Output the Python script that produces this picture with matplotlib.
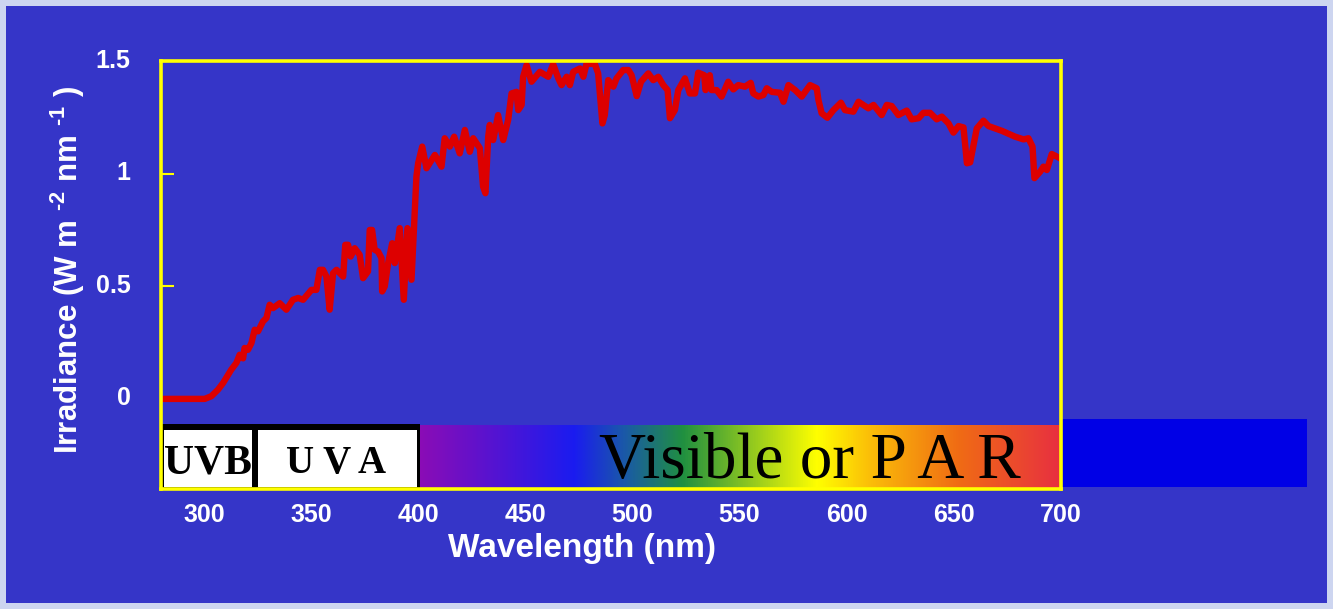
import numpy as np
import matplotlib
matplotlib.use("Agg")
import matplotlib.pyplot as plt
import matplotlib.transforms as mtransforms
from matplotlib.patches import Rectangle
from matplotlib.colors import LinearSegmentedColormap

# ---- data ----
wavelength = [280, 290, 299, 300.4, 303.5, 306.6, 309, 312.8, 315.2, 316.7, 318.3, 319, 320.6, 322.2,
              323.7, 325.3, 327.6, 329.2, 330.7, 332.3, 335.4, 337, 338.5, 341.6, 344, 346.3, 350.2,
              352.5, 354.1, 355.6, 357.2, 358.7, 360.3, 361.9, 365, 366, 367.3, 368.5, 370.4, 372.7,
              374.3, 376.6, 377.4, 378.5, 379.7, 381.3, 382.9, 383.2, 384.4, 386, 387.9, 389.1, 391.4,
              393.3, 395, 396.9, 398.4, 399.2, 400, 401.9, 403.9, 407.8, 410.9, 412.4, 414.8, 416.8,
              419.4, 421.8, 424.1, 425.7, 428.8, 430.3, 431.4, 432.7, 433.4, 435, 437.3, 439.7, 442,
              443.6, 445.9, 446.7, 448.3, 449, 450.6, 452.9, 456.8, 460.7, 463, 465.4, 466.9, 469.3,
              470.8, 472.4, 475.5, 477.1, 478.6, 482.5, 484, 486, 487.1, 488.7, 491.1, 492.6, 495.7,
              498.1, 499.6, 502, 504, 507.4, 509.7, 512.1, 514.4, 516.4, 517.5, 519.8, 521.4, 524.5,
              526.8, 529.2, 530.7, 533.5, 534.1, 536.1, 536.9, 539.3, 541.6, 544.7, 547.1, 549.4,
              552.5, 555.2, 556.4, 558.8, 561.1, 562.7, 565, 568.9, 570.5, 572.8, 575.9, 579, 582.9,
              586, 586.8, 588.3, 591, 593.8, 597.3, 599.2, 603.1, 605.5, 610.1, 612.5, 616.3, 618.7,
              621, 624.1, 628, 630.3, 633.5, 635.8, 638.9, 642, 644.4, 647.5, 649.8, 652.2, 654.5,
              656.1, 657.6, 660.7, 663.8, 666.2, 672.4, 678.6, 682.5, 684.8, 686.7, 687.6, 690.3,
              691.8, 693.4, 695.7, 699.6]
irradiance = [0.0, 0.0, 0.0, 0.0, 0.012, 0.041, 0.071, 0.13, 0.16, 0.196, 0.18, 0.226, 0.218, 0.248,
              0.307, 0.30, 0.344, 0.359, 0.418, 0.403, 0.425, 0.41, 0.396, 0.44, 0.448, 0.44, 0.484,
              0.484, 0.573, 0.573, 0.543, 0.396, 0.558, 0.573, 0.543, 0.684, 0.684, 0.632, 0.669, 0.64,
              0.536, 0.566, 0.75, 0.75, 0.662, 0.654, 0.625, 0.477, 0.499, 0.603, 0.691, 0.603, 0.758,
              0.44, 0.758, 0.529, 0.824, 0.987, 1.046, 1.12, 1.024, 1.083, 1.031, 1.157, 1.12, 1.164,
              1.09, 1.194, 1.097, 1.157, 1.113, 0.942, 0.913, 1.164, 1.216, 1.149, 1.26, 1.149, 1.238,
              1.356, 1.363, 1.282, 1.305, 1.43, 1.482, 1.408, 1.452, 1.43, 1.486, 1.423, 1.393, 1.43,
              1.393, 1.452, 1.467, 1.43, 1.489, 1.486, 1.445, 1.223, 1.26, 1.415, 1.386, 1.423, 1.46,
              1.46, 1.437, 1.344, 1.408, 1.445, 1.415, 1.43, 1.393, 1.371, 1.246, 1.282, 1.371, 1.423,
              1.356, 1.356, 1.448, 1.437, 1.371, 1.437, 1.371, 1.371, 1.342, 1.408, 1.374, 1.393,
              1.386, 1.403, 1.356, 1.342, 1.349, 1.379, 1.363, 1.359, 1.319, 1.393, 1.371, 1.342,
              1.393, 1.379, 1.327, 1.268, 1.248, 1.282, 1.315, 1.282, 1.275, 1.319, 1.29, 1.305,
              1.26, 1.305, 1.30, 1.26, 1.28, 1.241, 1.246, 1.27, 1.27, 1.241, 1.253, 1.223, 1.182,
              1.211, 1.205, 1.046, 1.05, 1.201, 1.235, 1.211, 1.19, 1.164, 1.152, 1.157, 1.12, 0.98,
              1.009, 1.031, 1.016, 1.087, 1.068]

xticks = [300, 350, 400, 450, 500, 550, 600, 650, 700]
xticklabels = ["300", "350", "400", "450", "500", "550", "600", "650", "700"]
yticks = [0, 0.5, 1, 1.5]
yticklabels = ["0", "0.5", "1", "1.5"]

band_names = ["UVB", "UVA"]
band_edges = [(280, 322.6), (325.4, 401)]
visible_range = (401, 700)
spectrum_stops = [(0.0, "#8a0cb6"), (0.24, "#1a1cf0"), (0.32, "#1a5aa6"), (0.41, "#209040"),
                  (0.62, "#ffff00"), (0.70, "#fbc008"), (0.84, "#f06c14"), (1.0, "#e83040")]

BG = "#3535c8"
YEL = "#ffff00"

plt.rcParams['mathtext.fontset'] = 'custom'
plt.rcParams['mathtext.bf'] = 'Liberation Sans:bold'
plt.rcParams['mathtext.rm'] = 'Liberation Sans:bold'
plt.rcParams['mathtext.default'] = 'bf'

fig = plt.figure(figsize=(13.33, 6.09), dpi=100)
fig.patch.set_facecolor("#cdd5f0")
fig.patches.append(Rectangle((6 / 1333, 6 / 609), 1321 / 1333, 597 / 609,
                             transform=fig.transFigure, facecolor=BG, edgecolor="none", zorder=-10))

ax = fig.add_axes([161 / 1333, 1 - 489 / 609, 900 / 1333, 428 / 609])
ax.set_facecolor(BG)

# UV boxes
ax.add_patch(Rectangle((279.5, -0.4), 401 - 279.5, 0.288, facecolor="black", edgecolor="none", zorder=2))
for (x0, x1), name in zip(band_edges, band_names):
    inset_l = 1.5 if name == "UVB" else 0.0
    inset_r = 0.0 if name == "UVB" else 1.5
    ax.add_patch(Rectangle((x0 + inset_l, -0.392), (x1 - x0) - inset_l - inset_r, 0.252,
                           facecolor="white", edgecolor="none", zorder=3))
ax.text(302.0, -0.331, "UVB", family="Liberation Serif", weight="bold", fontsize=30,
        ha="center", va="baseline", color="black", zorder=5)
ax.text(361.9, -0.331, "U V A", family="Liberation Serif", weight="bold", fontsize=28,
        ha="center", va="baseline", color="black", zorder=5)

# visible gradient
cmap = LinearSegmentedColormap.from_list("spec", spectrum_stops)
grad = np.linspace(0, 1, 512).reshape(1, -1)
ax.imshow(grad, cmap=cmap, aspect="auto", extent=(visible_range[0], visible_range[1], -0.4, -0.118),
          zorder=2, interpolation="bilinear")
ax.set_xlim(280, 700)
ax.set_ylim(-0.4, 1.5)
ax.text(582.9, -0.349, "Visible or P A R", family="Liberation Serif", fontsize=47,
        ha="center", va="baseline", color="black", zorder=5)

# blue box outside to the right
ax.add_patch(Rectangle((700, -0.393), 114.8, 0.302, facecolor="#0000e6", edgecolor="none",
                       zorder=1, clip_on=False))

# spectrum line
ax.plot(wavelength, irradiance, color="#dd0000", lw=4.6, solid_joinstyle="round", zorder=6)

for s in ax.spines.values():
    s.set_color(YEL)
    s.set_linewidth(2.6)
    s.set_zorder(7)

ax.set_xticks(xticks)
ax.set_xticklabels(xticklabels)
ax.set_yticks(yticks)
ax.set_yticklabels(yticklabels)
ax.tick_params(axis="both", direction="in", length=9, width=1.5, color=YEL, labelcolor="white",
               labelsize=18)
ax.tick_params(axis="y", pad=22)
ax.tick_params(axis="x", pad=10)
for lab in ax.get_xticklabels() + ax.get_yticklabels():
    lab.set_family("Liberation Sans")
    lab.set_weight("bold")
shift_up = mtransforms.ScaledTranslation(0, 3 / 100, fig.dpi_scale_trans)
for lab in ax.get_yticklabels():
    lab.set_verticalalignment("center_baseline")
    lab.set_transform(lab.get_transform() + shift_up)

fig.text(582 / 1333, 1 - 548 / 609, "Wavelength (nm)", family="Liberation Sans", weight="bold",
         fontsize=24, color="white", ha="center", va="center")
fig.text(68 / 1333, 1 - 270 / 609, r"Irradiance (W m $^{\text{-2}}$ nm $^{\text{-1}}$ )",
         family="Liberation Sans", weight="bold", fontsize=22.5, color="white",
         ha="center", va="center", rotation=90)

fig.savefig("out.png", dpi=100, facecolor=fig.get_facecolor())
